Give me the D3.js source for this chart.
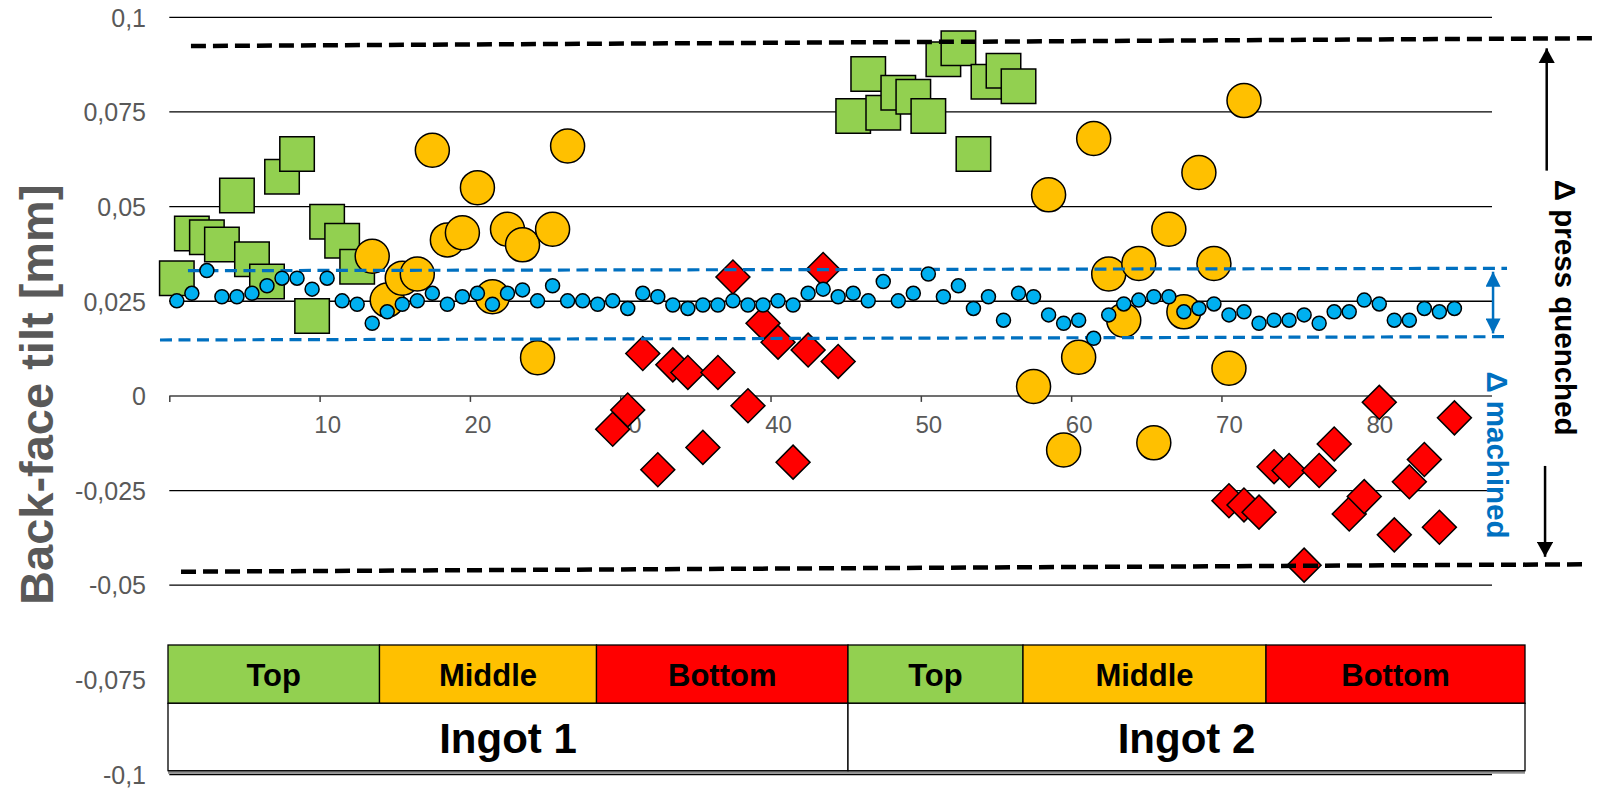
<!DOCTYPE html>
<html><head><meta charset="utf-8">
<script src="https://cdn.jsdelivr.net/npm/d3@7"></script>
<style>
body{margin:0;background:#fff}
svg{display:block}
text{font-family:"Liberation Sans",Arial,Helvetica,sans-serif}
</style>
</head><body>
<svg id="chart" width="1600" height="788"></svg>
<script>
// ---------------- DATA ----------------
// Machined back-face tilt (blue dots), samples 0..85
const machined = [
  0.0251,0.0271,0.0331,0.0262,0.0262,0.0271,0.0291,0.0311,0.0311,0.0282,
  0.0311,0.0251,0.0242,0.0192,0.0222,0.0242,0.0251,0.0271,0.0242,0.0262,
  0.0271,0.0242,0.0271,0.0280,0.0251,0.0291,0.0251,0.0251,0.0242,0.0251,
  0.0231,0.0271,0.0262,0.0240,0.0231,0.0240,0.0240,0.0251,0.0240,0.0240,
  0.0251,0.0240,0.0271,0.0282,0.0262,0.0271,0.0251,0.0302,0.0251,0.0271,
  0.0322,0.0262,0.0291,0.0231,0.0262,0.0200,0.0271,0.0262,0.0214,0.0192,
  0.0200,0.0152,0.0214,0.0243,0.0253,0.0262,0.0262,0.0222,0.0231,0.0243,
  0.0214,0.0222,0.0192,0.0200,0.0200,0.0214,0.0192,0.0222,0.0222,0.0253,
  0.0243,0.0200,0.0200,0.0231,0.0222,0.0231
];
// Press quenched, Ingot 1
const top1Start = 0;
const top1 = [0.0311,0.0429,0.0419,0.0400,0.0529,0.0361,0.0302,0.0579,0.0639,0.0211,0.0460,0.0410,0.0341];
const middle1Start = 13;
const middle1 = [0.0369,0.0253,0.0311,0.0322,0.0649,0.0412,0.0431,0.0550,0.0262,0.0440,0.0399,0.0101,0.0440,0.0660];
const bottom1Start = 29;
const bottom1 = [-0.0088,-0.0037,0.0112,-0.0195,0.0082,0.0062,-0.0136,0.0062,0.0314,-0.0026,0.0192,0.0142,-0.0175,0.0121,0.0334,0.0091];
// Press quenched, Ingot 2
const top2Start = 45;
const top2 = [0.0739,0.0850,0.0748,0.0801,0.0790,0.0739,0.0889,0.0918,0.0639,0.0830,0.0859,0.0818];
const middle2Start = 57;
const middle2 = [0.0025,0.0531,-0.0143,0.0102,0.0680,0.0322,0.0200,0.0350,-0.0124,0.0440,0.0222,0.0590,0.0350,0.0073,0.0780];
const bottom2Start = 70;
const bottom2 = [-0.0277,-0.0288,-0.0307,-0.0187,-0.0197,-0.0447,-0.0197,-0.0127,-0.0312,-0.0266,-0.0017,-0.0367,-0.0227,-0.0168,-0.0347,-0.0058];

// Axis ticks
const yTicks = [0.1,0.075,0.05,0.025,0,-0.025,-0.05,-0.075,-0.1];
const yTickLabels = ["0,1","0,075","0,05","0,025","0","-0,025","-0,05","-0,075","-0,1"];
const xTickMarks = [0,10,20,30,40,50,60,70,80];
const xLabelValues = [10,20,30,40,50,60,70,80];
const xTickLabels = ["10","20","30","40","50","60","70","80"];
const yTitle = "Back-face tilt [mm]";

// Envelope lines (sample index, tilt)
const pressUpper = [[0.94,0.09242],[94.16,0.09446]];
const pressLower = [[0.28,-0.04644],[93.83,-0.04448]];
const machUpper = [[0.74,0.03307],[88.5,0.0337]];
const machLower = [[-1.12,0.01477],[88.3,0.01564]];

// Table
const sectionLabels = ["Top","Middle","Bottom","Top","Middle","Bottom"];
const ingotLabels = ["Ingot 1","Ingot 2"];

// ---------------- LAYOUT ----------------
const svg = d3.select("#chart");
const plotL = 169.3, plotR = 1492;
const x = d3.scaleLinear().domain([-0.5, 87.5]).range([plotL, plotR]);
const y = d3.scaleLinear().domain([-0.1, 0.1]).range([774.5, 17.3]);

const C = {
  green:"#92D050", orange:"#FFC000", red:"#FF0000", blue:"#00B0F0",
  dblue:"#0070C0", grey:"#595959"
};

// gridlines
const gridG = svg.append("g");
gridG.selectAll("line").data(yTicks.filter(v => v !== 0)).join("line")
  .attr("x1", plotL).attr("x2", plotR)
  .attr("y1", d => y(d)).attr("y2", d => y(d))
  .attr("stroke", "#000").attr("stroke-width", 1.3);

// y axis labels
const yAxis = d3.axisLeft(y).tickValues(yTicks)
  .tickFormat((d,i) => yTickLabels[i]).tickSize(0).tickPadding(0);
const yAxG = svg.append("g").attr("transform", `translate(${146},0)`).call(yAxis);
yAxG.select(".domain").remove();
yAxG.selectAll("text").attr("fill", C.grey).attr("font-size", 25)
  .attr("font-family", '"Liberation Sans",Arial,sans-serif').attr("dy", "0.35em");

// x axis (line + ticks at boundaries)
const xAxis = d3.axisBottom(x).tickValues(xTickMarks.map(k => k - 0.5))
  .tickFormat("").tickSize(6).tickSizeOuter(0);
const xAxG = svg.append("g").attr("transform", `translate(0,${y(0)})`).call(xAxis);
xAxG.select(".domain").attr("stroke", "#404040").attr("stroke-width", 1.5)
  .attr("d", `M${plotL},0H${plotR}`);
xAxG.selectAll(".tick line").attr("stroke", "#404040").attr("stroke-width", 1.5);

// x labels centred on samples
const xLab = d3.axisBottom(x).tickValues(xLabelValues)
  .tickFormat((d,i) => xTickLabels[i]).tickSize(0).tickPadding(0);
const xLabG = svg.append("g").attr("transform", `translate(0,${y(0)})`).call(xLab);
xLabG.select(".domain").remove();
xLabG.selectAll("text").attr("fill", C.grey).attr("font-size", 24)
  .attr("font-family", '"Liberation Sans",Arial,sans-serif')
  .attr("dy", null).attr("y", 37.5);

// y title
svg.append("text")
  .attr("transform", `translate(52.5,394.7) rotate(-90)`)
  .attr("text-anchor", "middle").attr("font-size", 47).attr("font-weight", "bold")
  .attr("fill", C.grey).text(yTitle);

// ---------------- MARKS ----------------
const pts = (start, arr) => arr.map((v,i) => ({i: start + i, v}));
const sq = d3.symbol(d3.symbolSquare, 34.5*34.5);
const dia = d3.symbol(d3.symbolSquare, 24*24);

const marks = svg.append("g");
function squares(data){
  marks.append("g").selectAll("path").data(data).join("path")
    .attr("d", sq).attr("transform", d => `translate(${x(d.i)},${y(d.v)})`)
    .attr("fill", C.green).attr("stroke", "#000").attr("stroke-width", 1.5);
}
function circles(data){
  marks.append("g").selectAll("circle").data(data).join("circle")
    .attr("cx", d => x(d.i)).attr("cy", d => y(d.v)).attr("r", 17)
    .attr("fill", C.orange).attr("stroke", "#000").attr("stroke-width", 1.5);
}
function diamonds(data){
  marks.append("g").selectAll("path").data(data).join("path")
    .attr("d", dia).attr("transform", d => `translate(${x(d.i)},${y(d.v)}) rotate(45)`)
    .attr("fill", C.red).attr("stroke", "#000").attr("stroke-width", 1.5);
}
squares(pts(top1Start, top1));
circles(pts(middle1Start, middle1));
diamonds(pts(bottom1Start, bottom1));
squares(pts(top2Start, top2));
circles(pts(middle2Start, middle2));
diamonds(pts(bottom2Start, bottom2));

// envelope lines
const line = d3.line().x(d => x(d[0])).y(d => y(d[1]));
const env = svg.append("g").attr("fill", "none");
[pressUpper, pressLower].forEach(l => env.append("path").attr("d", line(l))
  .attr("stroke", "#000").attr("stroke-width", 4.5).attr("stroke-dasharray", "15,7"));
[machUpper, machLower].forEach(l => env.append("path").attr("d", line(l))
  .attr("stroke", C.dblue).attr("stroke-width", 3.2).attr("stroke-dasharray", "12,6.5"));

// machined dots
svg.append("g").selectAll("circle").data(pts(0, machined)).join("circle")
  .attr("cx", d => x(d.i)).attr("cy", d => y(d.v)).attr("r", 7)
  .attr("fill", C.blue).attr("stroke", "#000").attr("stroke-width", 1.5);

// arrows
const defs = svg.append("defs");
function marker(id, color, w, l){
  defs.append("marker").attr("id", id).attr("viewBox", `0 0 ${l} ${w}`)
    .attr("refX", l).attr("refY", w/2).attr("markerWidth", l).attr("markerHeight", w)
    .attr("markerUnits", "userSpaceOnUse").attr("orient", "auto-start-reverse")
    .append("path").attr("d", `M0,0L${l},${w/2}L0,${w}Z`).attr("fill", color);
}
marker("ab", "#000", 16.5, 15);
marker("abl", C.dblue, 15, 15);
const ann = svg.append("g");
ann.append("line").attr("x1", x(87.57)).attr("x2", x(87.57))
  .attr("y1", y(0.0165)).attr("y2", y(0.0328))
  .attr("stroke", C.dblue).attr("stroke-width", 2.5)
  .attr("marker-start", "url(#abl)").attr("marker-end", "url(#abl)");
ann.append("line").attr("x1", x(91.14)).attr("x2", x(91.14))
  .attr("y1", y(0.0595)).attr("y2", y(0.0918))
  .attr("stroke", "#000").attr("stroke-width", 2.5).attr("marker-end", "url(#ab)");
ann.append("line").attr("x1", x(91.03)).attr("x2", x(91.03))
  .attr("y1", y(-0.0185)).attr("y2", y(-0.0425))
  .attr("stroke", "#000").attr("stroke-width", 2.5).attr("marker-end", "url(#ab)");

ann.append("text").attr("transform", `translate(${x(91.7)},${y(0.0233)}) rotate(90)`)
  .attr("text-anchor", "middle").attr("font-size", 29.5).attr("font-weight", "bold")
  .attr("fill", "#000").text("\u0394 press quenched");
ann.append("text").attr("transform", `translate(${x(87.17)},${y(-0.0156)}) rotate(90)`)
  .attr("text-anchor", "middle").attr("font-size", 29.5).attr("font-weight", "bold")
  .attr("fill", C.dblue).text("\u0394 machined");

// ---------------- TABLE ----------------
const tEdges = [168, 379.5, 596.5, 848, 1023, 1266, 1525];
const tTop = 645, tMid = 703.3, tBot = 770.7;
const sectionColors = [C.green, C.orange, C.red, C.green, C.orange, C.red];
const tg = svg.append("g");
tg.append("rect").attr("x", tEdges[0]).attr("y", tTop + 2).attr("width", tEdges[6]-tEdges[0])
  .attr("height", tBot - tTop + 1).attr("fill", "#8c8c8c");
tg.selectAll("rect.sec").data(sectionLabels).join("rect").attr("class","sec")
  .attr("x", (d,i) => tEdges[i]).attr("y", tTop)
  .attr("width", (d,i) => tEdges[i+1]-tEdges[i]).attr("height", tMid - tTop)
  .attr("fill", (d,i) => sectionColors[i]).attr("stroke", "#000").attr("stroke-width", 1.3);
tg.selectAll("text.sec").data(sectionLabels).join("text").attr("class","sec")
  .attr("x", (d,i) => (tEdges[i]+tEdges[i+1])/2).attr("y", 685.5)
  .attr("text-anchor", "middle").attr("font-size", 31).attr("font-weight", "bold")
  .attr("fill", "#000").text(d => d);
const ingEdges = [tEdges[0], tEdges[3], tEdges[6]];
tg.selectAll("rect.ing").data(ingotLabels).join("rect").attr("class","ing")
  .attr("x", (d,i) => ingEdges[i]).attr("y", tMid)
  .attr("width", (d,i) => ingEdges[i+1]-ingEdges[i]).attr("height", tBot - tMid)
  .attr("fill", "#fff").attr("stroke", "#000").attr("stroke-width", 1.3);
tg.selectAll("text.ing").data(ingotLabels).join("text").attr("class","ing")
  .attr("x", (d,i) => (ingEdges[i]+ingEdges[i+1])/2).attr("y", 753)
  .attr("text-anchor", "middle").attr("font-size", 42).attr("font-weight", "bold")
  .attr("fill", "#000").text(d => d);
</script>
</body></html>
